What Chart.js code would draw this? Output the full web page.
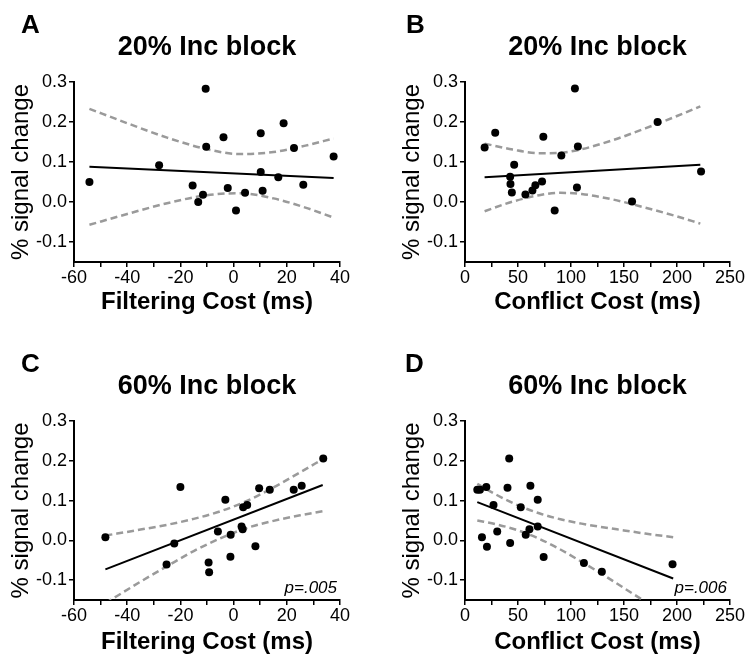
<!DOCTYPE html>
<html>
<head>
<meta charset="utf-8">
<script src="https://cdn.jsdelivr.net/npm/chart.js@4.4.1/dist/chart.umd.min.js"></script>
<style>
    html, body { margin: 0; padding: 0; background: #fff; }
    #wrap { position: relative; width: 745px; height: 659px; overflow: hidden; }
    #wrap canvas { position: absolute; }
</style>
</head>
<body>
<div id="wrap">
    <canvas id="chartA" width="372" height="330" style="left:0;top:0"></canvas>
    <canvas id="chartB" width="354" height="330" style="left:391px;top:0"></canvas>
    <canvas id="chartC" width="372" height="329" style="left:0;top:330px"></canvas>
    <canvas id="chartD" width="354" height="329" style="left:391px;top:330px"></canvas>
</div>
<script>
// A: 20% Inc block, filtering cost
var filterCostA = [-54.2, -28.0, -10.5, -10.3, -15.4, -11.5, -13.3, -3.8, -2.2, 0.9, 4.3, 10.2, 10.2, 10.9, 16.8, 18.8, 22.7, 26.2, 37.6];
var signalA = [0.050, 0.092, 0.283, 0.138, 0.041, 0.018, 0.000, 0.162, 0.035, -0.021, 0.023, 0.172, 0.075, 0.028, 0.062, 0.197, 0.135, 0.043, 0.114];
var fitXA = [-54.2, 37.6];
var fitYA = [0.088, 0.060];
var bandXA = [-54.2, -40, -25, -10, 2, 15, 27, 37.6];
var upperA = [0.233, 0.197, 0.161, 0.132, 0.120, 0.125, 0.141, 0.159];
var lowerA = [-0.057, -0.030, -0.003, 0.017, 0.022, 0.009, -0.014, -0.039];

// B: 20% Inc block, conflict cost
var conflictCostB = [18.5, 28.5, 42.6, 42.9, 44.2, 46.4, 57.0, 63.6, 66.4, 72.7, 73.9, 84.6, 90.9, 103.7, 105.6, 106.5, 157.6, 181.7, 222.7];
var signalB = [0.136, 0.173, 0.063, 0.045, 0.024, 0.093, 0.019, 0.029, 0.042, 0.051, 0.163, -0.021, 0.116, 0.284, 0.036, 0.139, 0.001, 0.200, 0.076];
var fitXB = [18.5, 222];
var fitYB = [0.062, 0.093];
var bandXB = [18.5, 45, 70, 90, 110, 140, 170, 200, 222];
var upperB = [0.146, 0.131, 0.122, 0.123, 0.132, 0.155, 0.184, 0.215, 0.239];
var lowerB = [-0.023, 0.001, 0.017, 0.023, 0.020, 0.006, -0.014, -0.036, -0.054];

// C: 60% Inc block, filtering cost
var filterCostC = [-48.2, -22.3, -20.0, -25.2, -9.4, -9.2, -5.9, -3.1, -1.2, -1.1, 3.0, 3.4, 3.6, 5.1, 8.2, 9.6, 13.6, 22.6, 25.6, 33.7];
var signalC = [0.008, -0.008, 0.134, -0.061, -0.056, -0.080, 0.022, 0.102, -0.041, 0.014, 0.035, 0.028, 0.083, 0.089, -0.015, 0.131, 0.127, 0.127, 0.137, 0.206];
var fitXC = [-48.2, 33.5];
var fitYC = [-0.073, 0.139];
var bandXC = [-48.2, -35, -25, -15, -5, 5, 15, 25, 33.5];
var upperC = [0.012, 0.027, 0.039, 0.054, 0.073, 0.099, 0.133, 0.171, 0.204];
var lowerC = [-0.158, -0.104, -0.065, -0.027, 0.005, 0.031, 0.049, 0.063, 0.073];

// D: 60% Inc block, conflict cost
var conflictCostD = [11.6, 14.1, 16.0, 20.1, 20.7, 26.9, 30.4, 40.1, 41.7, 42.6, 52.6, 57.3, 60.8, 61.7, 68.6, 68.6, 74.2, 112.2, 129.1, 195.8];
var signalD = [0.127, 0.127, 0.008, 0.134, -0.016, 0.089, 0.022, 0.132, 0.206, -0.007, 0.083, 0.014, 0.028, 0.137, 0.102, 0.035, -0.042, -0.057, -0.079, -0.060];
var fitXD = [11.6, 196.4];
var fitYD = [0.096, -0.096];
var bandXD = [11.6, 30, 50, 70, 90, 110, 130, 150, 170, 196.4];
var upperD = [0.142, 0.114, 0.088, 0.068, 0.053, 0.042, 0.033, 0.025, 0.017, 0.008];
var lowerD = [0.050, 0.040, 0.025, 0.004, -0.023, -0.054, -0.086, -0.120, -0.154, -0.199];

var yTickValues = [-0.1, 0.0, 0.1, 0.2, 0.3];

var FONT = "'Liberation Sans', Arial, Helvetica, sans-serif";

function pts(xs, ys) {
    return xs.map(function (x, i) { return { x: x, y: ys[i] }; });
}

// letters, titles and p values
var panelText = {
    id: 'panelText',
    afterDraw: function (chart, args, opts) {
        var ctx = chart.ctx;
        var area = chart.chartArea;
        ctx.save();
        ctx.fillStyle = '#000';
        ctx.textBaseline = 'alphabetic';
        ctx.font = 'bold 26px ' + FONT;
        ctx.textAlign = 'left';
        ctx.fillText(opts.letter, opts.letterX, area.top - 49);
        ctx.font = 'bold 27px ' + FONT;
        ctx.textAlign = 'center';
        ctx.fillText(opts.title, (area.left + area.right) / 2, area.top - 27);
        if (opts.p) {
            ctx.font = 'italic 17px ' + FONT;
            ctx.textAlign = 'right';
            ctx.fillText(opts.p, area.right - 3, area.bottom - 7);
        }
        ctx.restore();
    }
};

function makePanel(id, p) {
    var ctx = document.getElementById(id).getContext('2d');
    return new Chart(ctx, {
        type: 'scatter',
        data: {
            datasets: [{
                data: pts(p.x, p.y),
                pointRadius: 4,
                pointBackgroundColor: '#000',
                pointBorderWidth: 0,
                showLine: false
            }, {
                data: pts(p.fitX, p.fitY),
                showLine: true,
                borderColor: '#000',
                borderWidth: 2,
                pointRadius: 0
            }, {
                data: pts(p.bandX, p.upper),
                showLine: true,
                borderColor: '#9a9a9a',
                borderWidth: 2.5,
                borderDash: [7, 4],
                cubicInterpolationMode: 'monotone',
                pointRadius: 0
            }, {
                data: pts(p.bandX, p.lower),
                showLine: true,
                borderColor: '#9a9a9a',
                borderWidth: 2.5,
                borderDash: [7, 4],
                cubicInterpolationMode: 'monotone',
                pointRadius: 0
            }]
        },
        options: {
            responsive: false,
            animation: false,
            events: [],
            layout: { padding: { top: p.padTop, right: p.padRight, left: 0, bottom: 0 } },
            plugins: {
                legend: { display: false },
                tooltip: { enabled: false },
                panelText: { letter: p.letter, letterX: p.letterX, title: p.title, p: p.pText }
            },
            scales: {
                x: {
                    type: 'linear',
                    min: p.xMin,
                    max: p.xMax,
                    afterFit: function (s) { s.height = p.xHeight; },
                    border: { color: '#000', width: 2 },
                    grid: { drawOnChartArea: false, color: '#000', lineWidth: 1.5, tickLength: 5 },
                    ticks: {
                        stepSize: p.xStep,
                        maxRotation: 0,
                        autoSkip: false,
                        padding: 0,
                        color: '#000',
                        font: { family: FONT, size: 18 },
                        callback: function (v) { return (v % p.xLabelStep === 0) ? String(v) : ''; }
                    },
                    title: {
                        display: true,
                        text: p.xTitle,
                        color: '#000',
                        font: { family: FONT, size: 24, weight: 'bold' },
                        padding: { top: 0, bottom: p.xTitlePad }
                    }
                },
                y: {
                    type: 'linear',
                    min: -0.15,
                    max: 0.3,
                    afterFit: function (s) { s.width = 74; },
                    afterBuildTicks: function (s) {
                        s.ticks = yTickValues.map(function (v) { return { value: v }; });
                    },
                    border: { color: '#000', width: 2 },
                    grid: { drawOnChartArea: false, color: '#000', lineWidth: 1.5, tickLength: 5 },
                    ticks: {
                        padding: 2,
                        color: '#000',
                        font: { family: FONT, size: 18 },
                        callback: function (v) { return v.toFixed(1); }
                    },
                    title: {
                        display: true,
                        text: '% signal change',
                        color: '#000',
                        font: { family: FONT, size: 24 },
                        padding: { top: 7, bottom: 0 }
                    }
                }
            }
        },
        plugins: [panelText]
    });
}

document.addEventListener('DOMContentLoaded', function () {
    makePanel('chartA', {
        x: filterCostA, y: signalA, fitX: fitXA, fitY: fitYA,
        bandX: bandXA, upper: upperA, lower: lowerA,
        xMin: -60, xMax: 40, xStep: 10, xLabelStep: 20, xTitle: 'Filtering Cost (ms)',
        letter: 'A', letterX: 21, title: '20% Inc block', pText: '',
        padTop: 82, padRight: 32, xHeight: 68, xTitlePad: 13
    });
    makePanel('chartB', {
        x: conflictCostB, y: signalB, fitX: fitXB, fitY: fitYB,
        bandX: bandXB, upper: upperB, lower: lowerB,
        xMin: 0, xMax: 250, xStep: 25, xLabelStep: 50, xTitle: 'Conflict Cost (ms)',
        letter: 'B', letterX: 15, title: '20% Inc block', pText: '',
        padTop: 82, padRight: 14, xHeight: 68, xTitlePad: 13
    });
    makePanel('chartC', {
        x: filterCostC, y: signalC, fitX: fitXC, fitY: fitYC,
        bandX: bandXC, upper: upperC, lower: lowerC,
        xMin: -60, xMax: 40, xStep: 10, xLabelStep: 20, xTitle: 'Filtering Cost (ms)',
        letter: 'C', letterX: 21, title: '60% Inc block', pText: 'p=.005',
        padTop: 91, padRight: 32, xHeight: 59, xTitlePad: 2
    });
    makePanel('chartD', {
        x: conflictCostD, y: signalD, fitX: fitXD, fitY: fitYD,
        bandX: bandXD, upper: upperD, lower: lowerD,
        xMin: 0, xMax: 250, xStep: 25, xLabelStep: 50, xTitle: 'Conflict Cost (ms)',
        letter: 'D', letterX: 14, title: '60% Inc block', pText: 'p=.006',
        padTop: 91, padRight: 14, xHeight: 59, xTitlePad: 2
    });
});
</script>
</body>
</html>
